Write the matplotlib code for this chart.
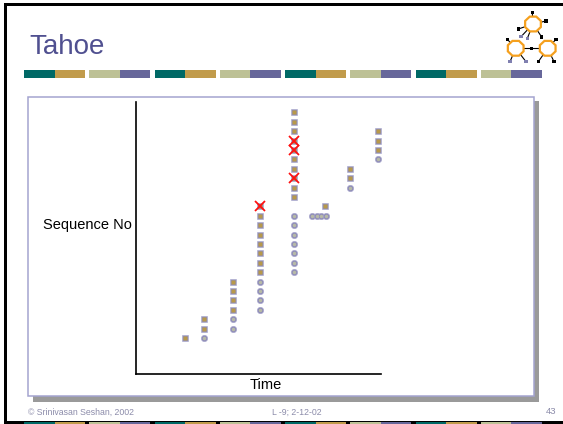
import matplotlib
matplotlib.use("Agg")
import matplotlib.pyplot as plt
from matplotlib.patches import Rectangle, Polygon
import numpy as np

# ---------------- data ----------------
# packets sent (squares): time, sequence number
sent_time = [4.9, 6.8, 6.8, 9.7, 9.7, 9.7, 9.7,
             12.4, 12.4, 12.4, 12.4, 12.4, 12.4, 12.4, 12.4,
             15.8, 15.8, 15.8, 15.8, 15.8, 15.8, 15.8, 15.8, 15.8, 15.8,
             18.96, 21.4, 21.4, 24.2, 24.2, 24.2]
sent_seq = [1, 2, 3, 4, 5, 6, 7,
            8, 9, 10, 11, 12, 13, 14, 15,
            16, 17, 18, 19, 20, 21, 22, 23, 24, 25,
            15, 18, 19, 21, 22, 23]
# acks received (circles)
ack_time = [6.8, 9.7, 9.7, 12.4, 12.4, 12.4, 12.4,
            15.8, 15.8, 15.8, 15.8, 15.8, 15.8, 15.8,
            17.6, 18.1, 18.56, 19.0, 21.4, 24.2]
ack_seq = [1, 2, 3, 4, 5, 6, 7,
           8, 9, 10, 11, 12, 13, 14,
           14, 14, 14, 14, 17, 20]
# lost packets (red X)
loss_time = [12.4, 15.8, 15.8, 15.8]
loss_seq = [15, 22, 21, 18]

title = "Tahoe"
ylabel = "Sequence No"
xlabel = "Time"
footer_left = "\u00a9 Srinivasan Seshan, 2002"
footer_mid = "L -9; 2-12-02"
footer_right = "43"

W, H = 563, 424
fig = plt.figure(figsize=(W / 100, H / 100), dpi=100)
fig.patch.set_facecolor("white")

# background / slide decorations in pixel coordinates
bg = fig.add_axes([0, 0, 1, 1], zorder=0)
bg.set_xlim(0, W)
bg.set_ylim(H, 0)
bg.axis("off")

def rect(x0, y0, x1, y1, color, z=1, **kw):
    bg.add_patch(Rectangle((x0, y0), x1 - x0, y1 - y0, facecolor=color,
                           edgecolor=kw.pop("ec", "none"), zorder=z, **kw))

# black frame
rect(4, 3.3, W, 6.3, "black")
rect(4, 3.3, 7, H, "black")
rect(4, 421, W, H, "black")

# colour bars
pair_colors = [("#006966", "#C19B4B"), ("#BDC196", "#67679A")]
for i in range(8):
    x0 = 24 + i * 65.25
    c1, c2 = pair_colors[i % 2]
    rect(x0, 69.5, x0 + 30.5, 77.5, c1, z=2)
    rect(x0 + 30.5, 69.5, x0 + 61, 77.5, c2, z=2)
    rect(x0, 421.5, x0 + 30.5, H, c1, z=2)
    rect(x0 + 30.5, 421.5, x0 + 61, H, c2, z=2)

# title
bg.text(29, 47, title, fontsize=20, color="#505090", va="center", ha="left",
        family=["Liberation Sans", "DejaVu Sans"])

# logo
hex_centers = [(533, 24), (515.7, 48.3), (547.7, 48.3)]
links = [((533, 24), (532.3, 12.3), "k"), ((533, 24), (546, 21), "k"),
         ((533, 24), (518.3, 29), "k"), ((533, 24), (541.7, 37), "k"),
         ((533, 24), (521, 36.7), "#8080B0"), ((533, 24), (527.3, 38.5), "#8080B0"),
         ((515.7, 48.3), (507.3, 39.3), "k"), ((515.7, 48.3), (510, 61.7), "#8080B0"),
         ((515.7, 48.3), (526, 61.7), "#8080B0"), ((515.7, 48.3), (547.7, 48.3), "k"),
         ((547.7, 48.3), (556, 39.3), "k"), ((547.7, 48.3), (538.3, 61.7), "k"),
         ((547.7, 48.3), (554, 61.7), "k")]
for (xa, ya), (xb, yb), c in links:
    bg.plot([xa, xb], [ya, yb], color="black", lw=0.8, zorder=3)
    if (xb, yb) != (547.7, 48.3):
        bg.add_patch(Rectangle((xb - 1.6, yb - 1.6), 3.2, 3.2, facecolor=c,
                               edgecolor="none", zorder=5))
bg.add_patch(Rectangle((530, 46.6), 3.4, 3.4, facecolor="black", zorder=5))
ang = np.linspace(0, 2 * np.pi, 9)[:-1] + np.pi / 8
for cx, cy in hex_centers:
    pts = np.column_stack([cx + 8.5 * np.cos(ang), cy + 8.0 * np.sin(ang)])
    bg.add_patch(Polygon(pts, closed=True, facecolor="white", edgecolor="#F5A01E",
                         lw=1.6, zorder=4))

# chart box with shadow
rect(33, 101, 539, 401.7, "#9A9A9A", z=2)
rect(28.3, 96.7, 534, 396, "white", z=3, ec="#A4A4D0", lw=1.1)

# footer
ffam = ["Liberation Sans Narrow", "Liberation Sans", "DejaVu Sans"]
bg.text(28, 412, footer_left, fontsize=6.3, color="#8C8CAA", va="center", ha="left", family=ffam)
bg.text(297, 412, footer_mid, fontsize=6.3, color="#8C8CAA", va="center", ha="center", family=ffam)
bg.text(556, 412, footer_right, fontsize=6.8, color="#8C8CAA", va="center", ha="right", family=ffam)

# ---------------- chart ----------------
ax = fig.add_axes([135.7 / W, (H - 374) / H, 245 / W, 272.3 / H], zorder=5)
ax.set_facecolor("none")
ax.set_xlim(0, 24.5)
ax.set_ylim(-2.83, 26.14)
for s in ["top", "right"]:
    ax.spines[s].set_visible(False)
for s in ["left", "bottom"]:
    ax.spines[s].set_color("black")
    ax.spines[s].set_linewidth(1.2)
ax.set_xticks([])
ax.set_yticks([])

ax.plot(sent_time, sent_seq, linestyle="none", marker="s", markersize=4.6,
        mfc="#8F8DB8", mec="#A9A7CE", mew=0.4, zorder=3)
ax.plot(sent_time, sent_seq, linestyle="none", marker="s", markersize=2.5,
        mfc="#B8994A", mec="none", zorder=4)
ax.plot(ack_time, ack_seq, linestyle="none", marker="o", markersize=4.6,
        mfc="#8F8DB8", mec="#A9A7CE", mew=0.4, zorder=3)
ax.plot(ack_time, ack_seq, linestyle="none", marker="o", markersize=2.5,
        mfc="#B7BAA6", mec="none", zorder=4)
ax.plot(loss_time, loss_seq, linestyle="none", marker="x", markersize=7.5,
        mew=1.3, color="#FF1010", zorder=5)

ax.text(-0.016, 0.547, ylabel, transform=ax.transAxes, ha="right", va="center",
        fontsize=10.5, color="black", family=["Liberation Sans", "DejaVu Sans"])
ax.text(0.53, -0.04, xlabel, transform=ax.transAxes, ha="center", va="center",
        fontsize=10.5, color="black", family=["Liberation Sans", "DejaVu Sans"])

fig.savefig("out.png", dpi=100, facecolor="white")
